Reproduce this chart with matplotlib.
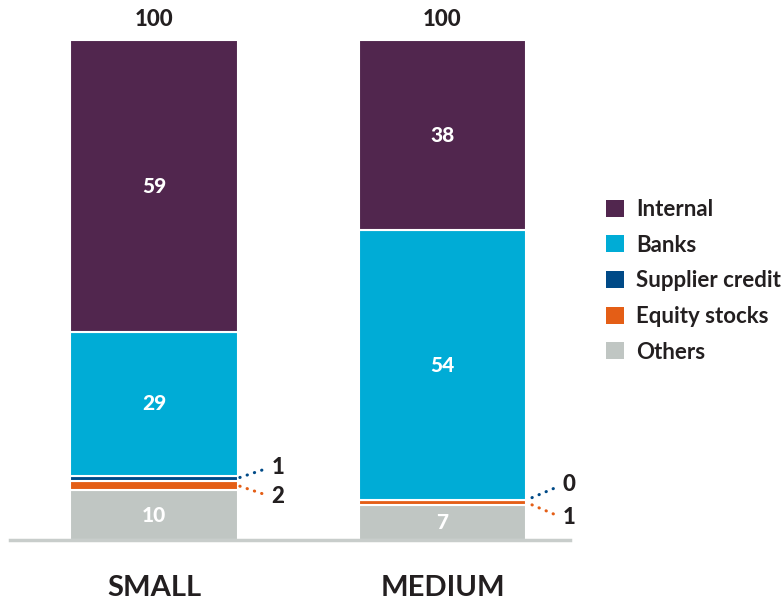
import matplotlib.pyplot as plt
from matplotlib.patches import Patch
import numpy as np

plt.rcParams['font.family'] = ['Lato', 'DejaVu Sans']

categories = ["SMALL", "MEDIUM"]
series = ["Internal", "Banks", "Supplier credit", "Equity stocks", "Others"]
internal = [59, 38]
banks = [29, 54]
supplier = [1, 0]
equity = [2, 1]
others = [10, 7]
totals = [100, 100]

colors = {
    "Internal": "#51264e",
    "Banks": "#00acd6",
    "Supplier credit": "#004a87",
    "Equity stocks": "#e45e16",
    "Others": "#c0c6c3",
}
text_color = "#231f20"

# stack order, bottom to top
stack = [("Others", others), ("Equity stocks", equity), ("Supplier credit", supplier),
         ("Banks", banks), ("Internal", internal)]
col_sum = np.sum([v for _, v in stack], axis=0)

fig = plt.figure(figsize=(7.84, 6.07), dpi=100)
ax = fig.add_axes([10 / 784, 67 / 607, 560 / 784, 540 / 607])
ax.set_xlim(-0.499, 1.442)
ax.set_ylim(0, 108)

x = np.arange(len(categories))
width = 0.582
bottom = np.zeros(len(categories))
mids = {}
for name, vals in stack:
    h = np.array(vals) / col_sum * 100
    ax.bar(x, h, width, bottom=bottom, color=colors[name], edgecolor="white", linewidth=1.5)
    mids[name] = bottom + h / 2
    for i, v in enumerate(vals):
        if v >= 5:
            ax.text(x[i], bottom[i] + h[i] / 2, str(v), ha="center", va="center",
                    color="white", fontsize=15, fontweight=900)
    bottom = bottom + h

# totals on top
for i, t in enumerate(totals):
    ax.text(x[i], 104, str(t), ha="center", va="center", color=text_color,
            fontsize=16, fontweight=900)

# category labels
for i, c in enumerate(categories):
    ax.text(x[i], -9.6, c, ha="center", va="center", color=text_color,
            fontsize=21, fontweight=700, clip_on=False)

# leader lines for the thin segments
offsets = {"Supplier credit": [(24, 8), (26, 11)], "Equity stocks": [(24, -8), (26, -11)]}
for name, vals in [("Supplier credit", supplier), ("Equity stocks", equity)]:
    for i, v in enumerate(vals):
        ax.annotate(str(v), xy=(x[i] + width / 2, mids[name][i]),
                    xytext=offsets[name][i], textcoords="offset points",
                    ha="left", va="center", color=text_color, fontsize=16,
                    fontweight=900,
                    arrowprops=dict(arrowstyle="-", color=colors[name], lw=2.2,
                                    linestyle=(0, (0.1, 2.4)), capstyle="round",
                                    relpos=(0, 0.5), shrinkA=5, shrinkB=0))

for s in ["top", "right", "left"]:
    ax.spines[s].set_visible(False)
ax.spines["bottom"].set_color("#c8cdcb")
ax.spines["bottom"].set_linewidth(2.5)
ax.set_xticks([])
ax.set_yticks([])

handles = [Patch(facecolor=colors[s], edgecolor="none") for s in series]
leg = fig.legend(handles, series, loc="upper left", bbox_to_anchor=(606 / 784, 1 - 199 / 607),
                 frameon=False, handlelength=0.8, handleheight=0.8,
                 handletextpad=0.55, labelspacing=0.66, borderpad=0, borderaxespad=0,
                 prop={"weight": 700, "size": 16})
for t in leg.get_texts():
    t.set_color(text_color)

fig.savefig("out.png", dpi=100)
